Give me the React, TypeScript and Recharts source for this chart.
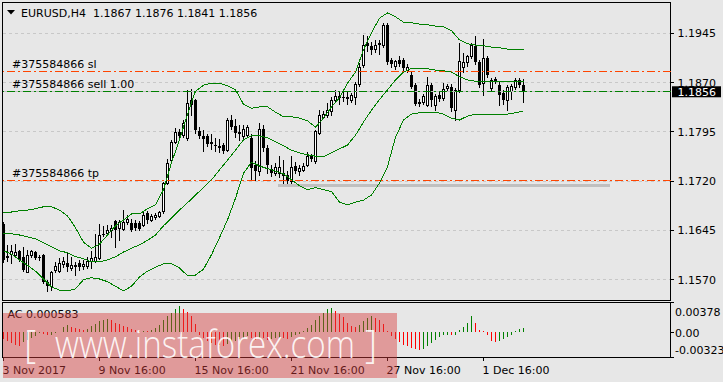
import React from "react";
import {
  ComposedChart,
  Bar,
  Line,
  XAxis,
  YAxis,
  CartesianGrid,
  ReferenceLine,
  ReferenceArea,
  Cell,
} from "recharts";

// EURUSD H4 bars, from 3 Nov 2017 16:00
const opens = [
  1.1654, 1.1606, 1.1609, 1.1607, 1.1613, 1.1605, 1.1582, 1.1608, 1.1612, 1.1605,
  1.1608, 1.1566, 1.1561, 1.1585, 1.1583, 1.1594, 1.1595, 1.1588, 1.1592, 1.1595,
  1.1591, 1.1591, 1.1598, 1.1599, 1.1603, 1.164, 1.1641, 1.1645, 1.1659, 1.1648,
  1.1647, 1.1658, 1.1656, 1.1657, 1.1657, 1.1653, 1.1671, 1.1661, 1.1665, 1.1667,
  1.1674, 1.1717, 1.1752, 1.178, 1.1795, 1.179, 1.1785, 1.1838, 1.1843, 1.1797,
  1.1789, 1.1788, 1.178, 1.1775, 1.1773, 1.1775, 1.1768, 1.1813, 1.1804, 1.1795,
  1.1788, 1.179, 1.1785, 1.1745, 1.1735, 1.18, 1.177, 1.1738, 1.1732, 1.1732,
  1.1733, 1.173, 1.172, 1.1743, 1.1735, 1.1737, 1.1745, 1.1758, 1.175, 1.1794,
  1.1818, 1.1821, 1.1826, 1.1844, 1.185, 1.1848, 1.1847, 1.1844, 1.1848, 1.1868,
  1.1897, 1.1931, 1.1926, 1.1921, 1.1929, 1.1927, 1.1958, 1.1904, 1.1895, 1.1905,
  1.1904, 1.1889, 1.1882, 1.1867, 1.1841, 1.1841, 1.1836, 1.1866, 1.1836, 1.1851,
  1.1846, 1.1861, 1.1864, 1.1828, 1.1859, 1.1893, 1.1901, 1.191, 1.1926, 1.1902,
  1.1869, 1.1907, 1.1861, 1.1875, 1.1867, 1.1854, 1.1844, 1.1857, 1.1864, 1.1874,
  1.1867,
];
const highs = [
  1.1658, 1.1623, 1.1623, 1.1624, 1.1615, 1.162, 1.1615, 1.1615, 1.1614, 1.1608,
  1.1609, 1.157, 1.1583, 1.1597, 1.1603, 1.1605, 1.161, 1.1605, 1.1597, 1.16,
  1.16, 1.1605, 1.1614, 1.164, 1.1654, 1.1651, 1.1653, 1.1653, 1.1661, 1.1661,
  1.1676, 1.1668, 1.1662, 1.1661, 1.166, 1.1674, 1.1675, 1.167, 1.1671, 1.1675,
  1.1719, 1.1754, 1.1783, 1.1801, 1.18, 1.1813, 1.1858, 1.186, 1.1845, 1.1803,
  1.1798, 1.1792, 1.1792, 1.1785, 1.1784, 1.1778, 1.1816, 1.1821, 1.1815, 1.1805,
  1.1805, 1.1806, 1.1792, 1.1751, 1.1808, 1.1805, 1.1775, 1.1745, 1.1748, 1.1758,
  1.1752, 1.1736, 1.1758, 1.1749, 1.1745, 1.1747, 1.1764, 1.1761, 1.1798, 1.1829,
  1.1826, 1.1839, 1.1848, 1.1859, 1.1857, 1.1857, 1.1857, 1.1854, 1.1871, 1.19,
  1.1943, 1.1941, 1.1932, 1.1935, 1.1935, 1.1961, 1.1961, 1.1907, 1.1905, 1.191,
  1.1908, 1.1898, 1.1887, 1.1869, 1.1845, 1.1853, 1.1879, 1.187, 1.1853, 1.1855,
  1.187, 1.1868, 1.1868, 1.1862, 1.1931, 1.1915, 1.1912, 1.193, 1.1941, 1.1905,
  1.1936, 1.191, 1.1877, 1.1878, 1.1871, 1.1858, 1.1866, 1.1868, 1.1877, 1.1877,
  1.1876,
];
const lows = [
  1.1597, 1.1598, 1.1595, 1.1605, 1.1598, 1.1583, 1.1581, 1.1604, 1.1602, 1.16,
  1.1565, 1.1552, 1.1555, 1.1582, 1.1582, 1.159, 1.1583, 1.1585, 1.1577, 1.1585,
  1.1587, 1.1588, 1.1588, 1.1597, 1.1602, 1.1636, 1.1638, 1.1635, 1.162, 1.163,
  1.1645, 1.1654, 1.1644, 1.1646, 1.1645, 1.1652, 1.1657, 1.1659, 1.1663, 1.1665,
  1.1672, 1.1716, 1.175, 1.1778, 1.1786, 1.1787, 1.1783, 1.182, 1.1794, 1.1785,
  1.1766, 1.1773, 1.1769, 1.1766, 1.1764, 1.1763, 1.1766, 1.1799, 1.1787, 1.1783,
  1.1784, 1.1787, 1.1722, 1.1722, 1.173, 1.1766, 1.1732, 1.1728, 1.1729, 1.1727,
  1.1714, 1.1712, 1.1716, 1.1732, 1.173, 1.1735, 1.1743, 1.175, 1.1747, 1.1792,
  1.1816, 1.1818, 1.1821, 1.184, 1.1837, 1.1842, 1.1838, 1.1841, 1.1837, 1.1865,
  1.1893, 1.1918, 1.1913, 1.1917, 1.1913, 1.1924, 1.1898, 1.1893, 1.1891, 1.1896,
  1.1889, 1.1886, 1.1862, 1.1836, 1.1835, 1.1838, 1.1834, 1.1835, 1.1828, 1.1842,
  1.1843, 1.1858, 1.1826, 1.1813, 1.1855, 1.1886, 1.1896, 1.1907, 1.1899, 1.1863,
  1.1851, 1.1879, 1.1858, 1.1869, 1.1836, 1.1838, 1.1829, 1.1845, 1.186, 1.1864,
  1.1841,
];
const closes = [
  1.16, 1.1603, 1.1614, 1.1612, 1.16, 1.1585, 1.1608, 1.1613, 1.1603, 1.1603,
  1.1566, 1.1561, 1.1582, 1.1591, 1.1595, 1.1599, 1.159, 1.1593, 1.159, 1.159,
  1.1594, 1.1599, 1.1603, 1.1605, 1.1638, 1.1638, 1.1646, 1.1648, 1.1646, 1.1658,
  1.1658, 1.1663, 1.1646, 1.1648, 1.1647, 1.1668, 1.1661, 1.1667, 1.1669, 1.1673,
  1.1717, 1.1748, 1.178, 1.1795, 1.1788, 1.1808, 1.1839, 1.1844, 1.1798, 1.1788,
  1.1784, 1.1777, 1.1777, 1.1774, 1.1771, 1.1766, 1.1813, 1.1802, 1.1793, 1.1792,
  1.18, 1.1803, 1.174, 1.1736, 1.18, 1.1771, 1.1745, 1.1732, 1.1742, 1.1742,
  1.1728, 1.172, 1.1742, 1.1735, 1.174, 1.1743, 1.1758, 1.1753, 1.1796, 1.1821,
  1.1822, 1.1828, 1.1844, 1.185, 1.1846, 1.1847, 1.1848, 1.1851, 1.1868, 1.1894,
  1.1927, 1.1926, 1.1919, 1.1927, 1.1931, 1.1958, 1.1902, 1.1899, 1.1903, 1.1899,
  1.1892, 1.1894, 1.1864, 1.1838, 1.1838, 1.185, 1.1866, 1.1844, 1.185, 1.1845,
  1.186, 1.1865, 1.1831, 1.1859, 1.1903, 1.1902, 1.191, 1.1927, 1.1901, 1.1866,
  1.1907, 1.1882, 1.1874, 1.1872, 1.1851, 1.1844, 1.1864, 1.1865, 1.1874, 1.1866,
  1.1856,
];

// Bollinger Bands, read every second bar
const bbUpper = [
  1.1672, 1.1673, 1.1675, 1.1676, 1.1678, 1.1681, 1.1681, 1.1676, 1.1667, 1.1649,
  1.1627, 1.1618, 1.1624, 1.1638, 1.1652, 1.1661, 1.167, 1.167, 1.1678, 1.1684,
  1.1707, 1.1748, 1.1783, 1.1822, 1.1857, 1.1866, 1.1869, 1.1869, 1.1865, 1.1859,
  1.1837, 1.1831, 1.1833, 1.1833, 1.1825, 1.1818, 1.1818, 1.1816, 1.1812, 1.1802,
  1.1816, 1.1833, 1.1847, 1.1869, 1.1886, 1.192, 1.1946, 1.1968, 1.1976, 1.197,
  1.1962, 1.1961, 1.1959, 1.1958, 1.1956, 1.1955, 1.1949, 1.1935, 1.1929, 1.1927,
  1.1926, 1.1924, 1.1923, 1.1921, 1.1921, 1.1921,
];
const bbMiddle = [
  1.1641, 1.164, 1.1638, 1.1635, 1.1632, 1.1626, 1.162, 1.1614, 1.1611, 1.1605,
  1.1602, 1.1597, 1.1597, 1.16, 1.1605, 1.1612, 1.1618, 1.1623, 1.163, 1.1638,
  1.1652, 1.1664, 1.1676, 1.1687, 1.1699, 1.171, 1.1722, 1.1737, 1.1752, 1.1767,
  1.1783, 1.1789, 1.1789, 1.1786, 1.178, 1.1774, 1.1767, 1.1763, 1.176, 1.1758,
  1.1757, 1.1763, 1.1769, 1.1775, 1.179, 1.181, 1.1828, 1.1844, 1.1859, 1.1874,
  1.1886, 1.1892, 1.1892, 1.1891, 1.1889, 1.1888, 1.1886, 1.1879, 1.1874, 1.1872,
  1.1872, 1.1872, 1.1872, 1.1872, 1.1872, 1.1872,
];
const bbLower = [
  1.1614, 1.1609, 1.16, 1.1592, 1.1583, 1.1571, 1.1559, 1.1554, 1.1553, 1.1556,
  1.157, 1.1573, 1.1571, 1.1567, 1.156, 1.1553, 1.156, 1.1574, 1.1583, 1.1589,
  1.1594, 1.1594, 1.1588, 1.1576, 1.1577, 1.1586, 1.1608, 1.1634, 1.1661, 1.1694,
  1.1732, 1.1749, 1.1743, 1.1739, 1.1735, 1.1731, 1.1722, 1.1713, 1.1707, 1.171,
  1.1707, 1.1704, 1.1688, 1.1684, 1.1688, 1.1691, 1.1699, 1.1717, 1.1742, 1.1787,
  1.1813, 1.1822, 1.1824, 1.1825, 1.1825, 1.1822, 1.1816, 1.1813, 1.1819, 1.1822,
  1.1822, 1.1822, 1.1822, 1.1822, 1.1824, 1.1827,
];
const bbStep = 2;

// Accelerator Oscillator
const acValues = [
  -0.0009, -0.0011, -0.0014, -0.0016, -0.0018, -0.0013, -0.001, -0.0007, -0.0005, -0.0001,
  -0.0002, -0.0004, -0.0003, -0.0001, 0.00005, 0.0006, 0.0009, 0.0007, 0.0005, 0.0004,
  0.0003, 0.0004, 0.0008, 0.0011, 0.0014, 0.0016, 0.0017, 0.0015, 0.0012, 0.001,
  0.0008, 0.0006, 0.0004, 0.0003, 0.0001, 0.0002, 0.0001, 0.0003, 0.0005, 0.0009,
  0.0015, 0.002, 0.0025, 0.0029, 0.0033, 0.003, 0.0026, 0.002, 0.0011, -0.0004,
  -0.0008, -0.0011, -0.0014, -0.0016, -0.0017, -0.0018, -0.0015, -0.0013, -0.0011, -0.0009,
  -0.0007, -0.0005, -0.0008, -0.001, -0.0007, -0.0008, -0.001, -0.0009, -0.0008, -0.0007,
  -0.0008, -0.0009, -0.0006, -0.0004, -0.0002, 0.0001, 0.0005, 0.0009, 0.0015, 0.0021,
  0.0025, 0.0029, 0.0031, 0.0027, 0.0023, 0.0019, 0.0012, 0.0008, 0.0006, 0.0009,
  0.0014, 0.0018, 0.0021, 0.0018, 0.0016, 0.001, 0.0002, -0.0005, -0.0009, -0.0013,
  -0.0016, -0.0018, -0.002, -0.0022, -0.0023, -0.0021, -0.0018, -0.0014, -0.001, -0.0006,
  -0.0004, -0.0003, -0.0004, -0.0003, 0.0003, 0.0007, 0.0012, 0.002, 0.0012, 0.0003,
  0.0001, -0.0004, -0.0011, -0.0012, -0.0011, -0.0009, -0.0006, -0.0003, 0.0001, 0.0004,
  0.000583,
];

const priceTicks = [1.157, 1.1645, 1.172, 1.1795, 1.187, 1.1945];
const acTicks = [-0.00323, 0, 0.00378];
const gridTicks = [12, 24, 36, 48, 60, 72, 84, 96, 108, 120, 132, 144, 156];
const timeTicks = [0, 24, 48, 72, 96, 120];
const timeLabels = ["3 Nov 2017", "9 Nov 16:00", "15 Nov 16:00", "21 Nov 16:00", "27 Nov 16:00", "1 Dec 16:00"];

const orderId = "#375584866";
const slPrice = 1.1887;
const sellPrice = 1.1857;
const tpPrice = 1.1721;
const bidPrice = 1.1856;
const trendPrice = 1.1714;
const trendStart = 68.6;
const trendEnd = 151.5;

const xDomain: [number, number] = [-0.25, 166.75];
const priceDomain: [number, number] = [1.15383, 1.19919];
const acDomain: [number, number] = [-0.00323, 0.00378];

const GREEN = "#008000";
const ORANGE = "#ff4500";
const GRID = "#c8c8c8";
const BG = "#e7e7e7";
const FONT = "'DejaVu Sans', Verdana, sans-serif";

const rows: any[] = opens.map((o, i) => ({
  i,
  o,
  h: highs[i],
  l: lows[i],
  c: closes[i],
  range: [lows[i], highs[i]],
}));
bbUpper.forEach((v, k) => (rows[k * bbStep].ub = v));
bbMiddle.forEach((v, k) => (rows[k * bbStep].mb = v));
bbLower.forEach((v, k) => (rows[k * bbStep].lb = v));

const acRows = acValues.map((v, i) => ({ i, v, up: i > 0 && v > acValues[i - 1] }));

function Candle(props: any) {
  const { x, y, width, height, payload } = props;
  if (!payload) return null;
  const top = Math.min(y, y + height);
  const bottom = Math.max(y, y + height);
  const span = payload.h - payload.l;
  const py = (v: number) => (span > 0 ? bottom - ((v - payload.l) / span) * (bottom - top) : top);
  const cx = x + width / 2;
  const yo = py(payload.o);
  const yc = py(payload.c);
  const bTop = Math.round(Math.min(yo, yc));
  const bBot = Math.round(Math.max(yo, yc));
  const bull = payload.c >= payload.o;
  return (
    <g shapeRendering="crispEdges">
      <line x1={cx} x2={cx} y1={Math.round(top)} y2={Math.round(bottom) + 1} stroke="#000" strokeWidth={1} />
      {bull ? (
        <rect x={x + 0.5} y={bTop + 0.5} width={width - 1} height={Math.max(bBot - bTop, 1)} fill="#fff" stroke="#000" strokeWidth={1} />
      ) : (
        <rect x={x} y={bTop} width={width} height={Math.max(bBot - bTop, 1)} fill="#000" />
      )}
    </g>
  );
}

const PriceTick = (props: any) => (
  <text x={props.x} y={props.y + 4} fill="#000" fontSize={11} fontFamily={FONT} textAnchor="start">
    {Number(props.payload.value).toFixed(4)}
  </text>
);

const AcTick = (props: any) => {
  const v = Number(props.payload.value);
  const dy = v > 0 ? 13 : v < 0 ? -3.5 : 5;
  return (
    <text x={props.x} y={props.y + dy} fill="#000" fontSize={11} fontFamily={FONT} textAnchor="start">
      {v === 0 ? "0.00" : v.toFixed(5)}
    </text>
  );
};

const TimeTick = (props: any) => {
  const idx = timeTicks.indexOf(props.payload.value);
  return (
    <text x={props.x - 1} y={props.y + 11} fill="#000" fontSize={11} fontFamily={FONT} textAnchor="start">
      {timeLabels[idx]}
    </text>
  );
};

const OrderLabel = (props: any) => {
  const vb = props.viewBox || { x: 0, y: 0 };
  return (
    <text x={vb.x + 9.5} y={vb.y - 3} fill="#000" fontSize={11} fontFamily={FONT}>
      {props.text}
    </text>
  );
};

const BidLabel = (props: any) => {
  const vb = props.viewBox || { x: 0, y: 0, width: 0 };
  const right = vb.x + vb.width;
  return (
    <g>
      <rect x={right + 1.5} y={vb.y - 5.5} width={49} height={11} fill="#000" />
      <text x={right + 7} y={vb.y + 4} fill="#fff" fontSize={11} fontFamily={FONT}>
        {bidPrice.toFixed(4)}
      </text>
    </g>
  );
};

export default function App() {
  return (
    <div
      style={{
        position: "absolute",
        left: 0,
        top: 0,
        width: 723,
        height: 382,
        background: BG,
        fontFamily: FONT,
        overflow: "hidden",
      }}
    >
      <style>{`.mt svg path, .mt svg line { shape-rendering: crispEdges; }`}</style>
      <div className="mt" style={{ position: "absolute", left: 0, top: 0 }}>
        <ComposedChart width={723} height={301} data={rows} margin={{ top: 2.5, right: 0, bottom: 0.5, left: 2.5 }}>
          <CartesianGrid stroke={GRID} strokeDasharray="3 3" />
          <XAxis
            type="number"
            dataKey="i"
            domain={xDomain}
            ticks={gridTicks}
            allowDataOverflow
            height={0}
            tick={false}
            tickLine={false}
            axisLine={false}
          />
          <YAxis
            orientation="right"
            width={52.5}
            domain={priceDomain}
            allowDataOverflow
            ticks={priceTicks}
            tickSize={3}
            tickMargin={4}
            tickLine={{ stroke: "#000" }}
            axisLine={false}
            tick={<PriceTick />}
            interval={0}
          />
          <ReferenceLine
            segment={[
              { x: trendStart, y: trendPrice },
              { x: trendEnd, y: trendPrice },
            ]}
            stroke="#c0c0c0"
            strokeWidth={3}
          />
          <ReferenceLine y={bidPrice} stroke="#c0c0c0" label={<BidLabel />} />
          <ReferenceLine y={slPrice} stroke={ORANGE} strokeDasharray="8 3 2 3" label={<OrderLabel text={`${orderId} sl`} />} />
          <ReferenceLine y={sellPrice} stroke={GREEN} strokeDasharray="8 3 2 3" label={<OrderLabel text={`${orderId} sell 1.00`} />} />
          <ReferenceLine y={tpPrice} stroke={ORANGE} strokeDasharray="8 3 2 3" label={<OrderLabel text={`${orderId} tp`} />} />
          <Bar dataKey="range" barSize={3} shape={<Candle />} isAnimationActive={false} />
          <Line dataKey="ub" stroke={GREEN} strokeWidth={1} dot={false} connectNulls type="linear" isAnimationActive={false} />
          <Line dataKey="mb" stroke={GREEN} strokeWidth={1} dot={false} connectNulls type="linear" isAnimationActive={false} />
          <Line dataKey="lb" stroke={GREEN} strokeWidth={1} dot={false} connectNulls type="linear" isAnimationActive={false} />
          <ReferenceArea x1={xDomain[0]} x2={xDomain[1]} y1={priceDomain[0]} y2={priceDomain[1]} fill="none" stroke="#000" strokeWidth={1} />
        </ComposedChart>
      </div>

      <div className="mt" style={{ position: "absolute", left: 0, top: 301 }}>
        <ComposedChart width={723} height={81} data={acRows} margin={{ top: 1.5, right: 0, bottom: 0, left: 2.5 }}>
          <CartesianGrid xAxisId="grid" stroke={GRID} strokeDasharray="3 3" horizontal={false} />
          <XAxis
            xAxisId="grid"
            type="number"
            dataKey="i"
            domain={xDomain}
            ticks={gridTicks}
            allowDataOverflow
            height={0}
            tick={false}
            tickLine={false}
            axisLine={false}
          />
          <XAxis
            xAxisId="time"
            type="number"
            dataKey="i"
            domain={xDomain}
            ticks={timeTicks}
            allowDataOverflow
            height={24.5}
            tickSize={3}
            tickLine={{ stroke: "#000" }}
            axisLine={false}
            tick={<TimeTick />}
            interval={0}
          />
          <YAxis
            orientation="right"
            width={52.5}
            domain={acDomain}
            allowDataOverflow
            ticks={acTicks}
            tickSize={3}
            tickMargin={1.5}
            tickLine={{ stroke: "#000" }}
            axisLine={false}
            tick={<AcTick />}
            interval={0}
          />
          <Bar xAxisId="time" dataKey="v" barSize={1} isAnimationActive={false}>
            {acRows.map((d) => (
              <Cell key={d.i} fill={d.up ? GREEN : "#ff0000"} />
            ))}
          </Bar>
          <ReferenceArea xAxisId="time" x1={xDomain[0]} x2={xDomain[1]} y1={acDomain[0]} y2={acDomain[1]} fill="none" stroke="#000" strokeWidth={1} />
        </ComposedChart>
      </div>

      <svg width={723} height={382} style={{ position: "absolute", left: 0, top: 0, pointerEvents: "none" }}>
        <polygon points="7,10 15,10 11,14.5" fill="#000" />
        <text x={21} y={16.7} fontSize={11} fontFamily={FONT} fill="#000" xmlSpace="preserve" style={{ whiteSpace: "pre" }}>
          {"EURUSD,H4  1.1867 1.1876 1.1841 1.1856"}
        </text>
        <text x={7.5} y={317.5} fontSize={11} fontFamily={FONT} fill="#000">
          AC 0.000583
        </text>
        <rect x={3} y={313} width={394} height={65} fill="rgba(215,60,60,0.45)" />
        <text x={24} y={358} fontSize={38} fontFamily="'Open Sans', 'Liberation Sans', sans-serif" fontWeight={300} fill="rgba(255,255,255,0.9)">
          [
        </text>
        <text
          x={55}
          y={358}
          fontSize={39}
          fontFamily="'Open Sans', 'Liberation Sans', sans-serif"
          fontWeight={300}
          fill="rgba(255,255,255,0.9)"
          textLength={300}
          lengthAdjust="spacingAndGlyphs"
        >
          www.instaforex.com
        </text>
        <text x={365} y={358} fontSize={38} fontFamily="'Open Sans', 'Liberation Sans', sans-serif" fontWeight={300} fill="rgba(255,255,255,0.9)">
          ]
        </text>
      </svg>
    </div>
  );
}
